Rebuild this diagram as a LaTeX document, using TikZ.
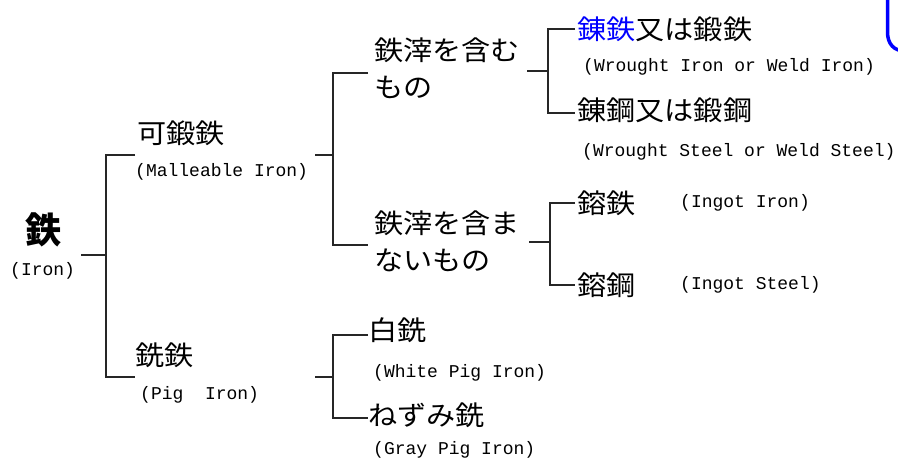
\documentclass[tikz,border=0pt]{standalone}
\usepackage{fontspec}
\newfontfamily\cjk[FakeStretch=1.08]{Noto Sans CJK JP}
\newfontfamily\cjkbig{Noto Sans CJK JP}
\setmonofont{Liberation Mono}
\begin{document}
\begin{tikzpicture}[x=1pt,y=-1pt,
  jp/.style={anchor=west,inner sep=0pt,font=\cjk\fontsize{27}{37}\selectfont,align=left},
  en/.style={anchor=west,inner sep=0pt,font=\ttfamily\fontsize{18}{20}\selectfont},
  br/.style={line width=1.8pt,black!85}]
\useasboundingbox[fill=white] (0,0) rectangle (898,459);

% texts
\node[anchor=west,inner sep=0pt,font=\cjkbig\bfseries\fontsize{36}{40}\selectfont] (iron) at (25,230) {鉄};
\node[en] (ironE) at (10,271) {(Iron)};
\node[jp] (mal) at (137,133) {可鍛鉄};
\node[en] (malE) at (135,172) {(Malleable Iron)};
\node[jp] (pig) at (135,355) {銑鉄};
\node[en] (pigE) at (140,395) {(Pig~~Iron)};
\node[jp] (slag) at (374,68.5) {鉄滓を含む\\もの};
\node[jp] (noslag) at (374,241.5) {鉄滓を含ま\\ないもの};
\node[jp] (wi) at (577,29) {\textcolor{blue}{錬鉄}又は鍛鉄};
\node[en] (wiE) at (583,67) {(Wrought Iron or Weld Iron)};
\node[jp] (ws) at (577,110) {錬鋼又は鍛鋼};
\node[en] (wsE) at (582,152) {(Wrought Steel or Weld Steel)};
\node[jp] (ii) at (577,203) {鎔鉄};
\node[en] (iiE) at (680,203) {(Ingot Iron)};
\node[jp] (is) at (577,285) {鎔鋼};
\node[en] (isE) at (680,285) {(Ingot Steel)};
\node[jp] (wp) at (368,330) {白銑};
\node[en] (wpE) at (373,373) {(White Pig Iron)};
\node[jp] (gp) at (368,415) {ねずみ銑};
\node[en] (gpE) at (373,450) {(Gray Pig Iron)};

% tree coordinates
\coordinate (a0) at (81,255);   \coordinate (a1) at (106,255);
\coordinate (aT) at (135,155);  \coordinate (aB) at (135,377);
\coordinate (b0) at (315,155);  \coordinate (b1) at (333,155);
\coordinate (bT) at (368,73);   \coordinate (bB) at (368,245);
\coordinate (c0) at (527,71);   \coordinate (c1) at (548,71);
\coordinate (cT) at (575,29);   \coordinate (cB) at (575,113);
\coordinate (d0) at (529,242);  \coordinate (d1) at (550,242);
\coordinate (dT) at (575,203);  \coordinate (dB) at (575,285);
\coordinate (e0) at (315,377);  \coordinate (e1) at (333,377);
\coordinate (eT) at (368,335);  \coordinate (eB) at (368,418);

\draw[br] (a0) -- (a1) (aT) -| (a1) |- (aB);
\draw[br] (b0) -- (b1) (bT) -| (b1) |- (bB);
\draw[br] (c0) -- (c1) (cT) -| (c1) |- (cB);
\draw[br] (d0) -- (d1) (dT) -| (d1) |- (dB);
\draw[br] (e0) -- (e1) (eT) -| (e1) |- (eB);

% blue rounded corner fragment at top right
\coordinate (f0) at (887.5,-5);
\coordinate (f1) at (887.5,32);
\coordinate (f2) at (905,51);
\begin{scope}
\clip (0,0) rectangle (898,459);
\draw[blue,line width=3.5pt] (f0) -- (f1) .. controls (887.5,44) and (894,51) .. (f2);
\end{scope}
\end{tikzpicture}
\end{document}
